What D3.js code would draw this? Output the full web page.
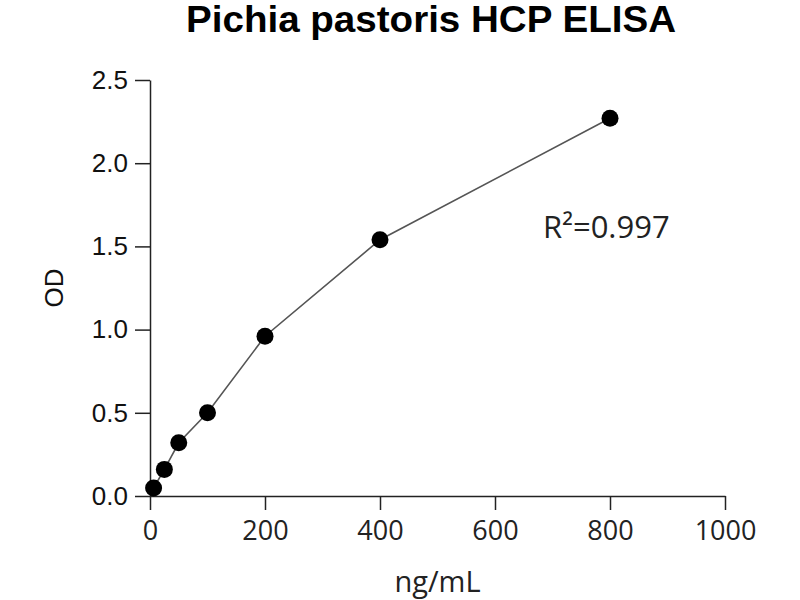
<!DOCTYPE html>
<html>
<head>
<meta charset="utf-8">
<script src="https://cdn.jsdelivr.net/npm/d3@7"></script>
<style>
  body { margin: 0; background: #fff; }
</style>
</head>
<body>
<div id="chart"></div>
<script>
// standard curve values
var conc = [6.25, 25, 50, 100, 200, 400, 800];
var od = [0.048, 0.16, 0.32, 0.50, 0.96, 1.54, 2.27];
var xTicks = [0, 200, 400, 600, 800, 1000];
var yTicks = [0, 0.5, 1.0, 1.5, 2.0, 2.5];

var svg = d3.select("#chart").append("svg"),
    svg_width = 800, svg_height = 600;
svg.attr("width", svg_width).attr("height", svg_height);

var x = d3.scaleLinear().domain([0, 1000]).range([150, 725]);
var y = d3.scaleLinear().domain([0, 2.5]).range([496, 80]);

var data = conc.map(function(c, i) { return {x: c, y: od[i]}; });

// title
svg.append("text")
    .attr("x", 431)
    .attr("y", 32)
    .attr("text-anchor", "middle")
    .attr("font-family", "Liberation Sans, Arial, sans-serif")
    .attr("font-weight", "bold")
    .attr("font-size", 36)
    .attr("textLength", 490)
    .attr("lengthAdjust", "spacingAndGlyphs")
    .text("Pichia pastoris HCP ELISA");

// y axis
var yAxis = svg.append("g")
    .attr("transform", "translate(" + x(0) + ",0)")
    .call(d3.axisLeft(y).tickValues(yTicks).tickFormat(d3.format(".1f")).tickSize(15).tickPadding(7).tickSizeOuter(0));
yAxis.selectAll("text")
    .attr("font-family", "Liberation Sans, Arial, sans-serif")
    .attr("font-size", 26)
    .attr("fill", "#111");

// x axis
var xAxis = svg.append("g")
    .attr("transform", "translate(0," + y(0) + ")")
    .call(d3.axisBottom(x).tickValues(xTicks).tickFormat(d3.format("d")).tickSize(14).tickPadding(11).tickSizeOuter(0));
xAxis.selectAll("text")
    .attr("font-family", "Open Sans, sans-serif")
    .attr("font-size", 27)
    .attr("fill", "#222");

svg.selectAll(".domain, .tick line")
    .attr("stroke", "#222")
    .attr("stroke-width", 1.5);

// axis titles
svg.append("text")
    .attr("transform", "translate(63," + ((y(0) + y(2.5)) / 2) + ") rotate(-90)")
    .attr("text-anchor", "middle")
    .attr("font-family", "Liberation Sans, Arial, sans-serif")
    .attr("font-size", 26)
    .attr("fill", "#111")
    .text("OD");

svg.append("text")
    .attr("x", (x(0) + x(1000)) / 2)
    .attr("y", 592)
    .attr("text-anchor", "middle")
    .attr("font-family", "Open Sans, sans-serif")
    .attr("font-size", 29)
    .attr("fill", "#222")
    .text("ng/mL");

// curve
var line = d3.line()
    .x(function(d) { return x(d.x); })
    .y(function(d) { return y(d.y); });

svg.append("path")
    .datum(data)
    .attr("fill", "none")
    .attr("stroke", "#555")
    .attr("stroke-width", 1.6)
    .attr("d", line);

svg.selectAll(".dot")
    .data(data)
    .enter().append("circle")
    .attr("class", "dot")
    .attr("cx", function(d) { return x(d.x); })
    .attr("cy", function(d) { return y(d.y); })
    .attr("r", 8.5)
    .attr("fill", "#000");

// fit annotation
svg.append("text")
    .attr("x", 543)
    .attr("y", 238)
    .attr("font-family", "Open Sans, sans-serif")
    .attr("font-size", 31)
    .attr("fill", "#222")
    .text("R²=0.997");
</script>
</body>
</html>
